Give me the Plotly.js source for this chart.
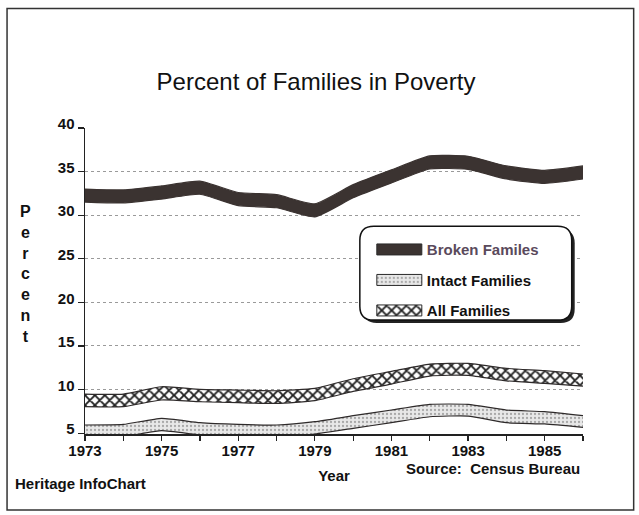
<!DOCTYPE html>
<html><head><meta charset="utf-8">
<script src="https://cdn.plot.ly/plotly-3.0.1.min.js"></script>
<style>html,body{margin:0;padding:0;background:#fff}</style>
</head><body><div id="chart" style="width:639px;height:515px"></div>
<script>
// ---- data (percent of families in poverty, band edges) ----
const years = [1973,1974,1975,1976,1977,1978,1979,1980,1981,1982,1983,1984,1985,1986];
const brokenUpper = [33.0, 32.9, 33.35, 33.9, 32.6, 32.35, 31.3, 33.5, 35.2, 36.8, 36.75, 35.65, 35.15, 35.65];
const brokenLower = [31.5, 31.4, 31.85, 32.4, 31.1, 30.85, 29.8, 32.0, 33.7, 35.3, 35.25, 34.15, 33.65, 34.15];
const intactUpper = [5.93, 6.0, 6.7, 6.2, 6.0, 5.93, 6.31, 7.0, 7.65, 8.3, 8.3, 7.65, 7.46, 7.0];
const intactLower = [4.55, 4.6, 5.29, 4.8, 4.6, 4.55, 4.9, 5.55, 6.2, 6.88, 6.96, 6.2, 6.05, 5.67];
const allUpper = [9.48, 9.48, 10.32, 10.02, 9.94, 9.86, 10.14, 11.24, 12.08, 12.92, 13.0, 12.43, 12.16, 11.78];
const allLower = [8.03, 8.03, 8.8, 8.6, 8.49, 8.42, 8.72, 9.79, 10.63, 11.55, 11.63, 11.0, 10.7, 10.4];
const seriesNames = ['Broken Familes', 'Intact Families', 'All Families'];
const yTickVals = [5, 10, 15, 20, 25, 30, 35, 40];
const xTickLabels = years.map(y => (y % 2 === 1 ? String(y) : ''));

// ---- geometry helpers (pixel -> paper) ----
const W = 639, H = 515;
const M = {l: 85, r: 55.7, t: 127.7, b: 81};
const PW = W - M.l - M.r, PH = H - M.t - M.b;
const px = x => (x - M.l) / PW;
const py = y => (H - M.b - y) / PH;
function roundRect(x0, y0, x1, y1, r) {
  const p = (x, y) => px(x).toFixed(5) + ',' + py(y).toFixed(5);
  return 'M' + p(x0 + r, y0) + ' L' + p(x1 - r, y0) + ' Q' + p(x1, y0) + ' ' + p(x1, y0 + r) +
    ' L' + p(x1, y1 - r) + ' Q' + p(x1, y1) + ' ' + p(x1 - r, y1) +
    ' L' + p(x0 + r, y1) + ' Q' + p(x0, y1) + ' ' + p(x0, y1 - r) +
    ' L' + p(x0, y0 + r) + ' Q' + p(x0, y0) + ' ' + p(x0 + r, y0) + ' Z';
}

const FONT = 'Liberation Sans, Arial, Helvetica, sans-serif';
const edge = {color: '#2e2a2a', width: 1.2, shape: 'spline', smoothing: 0.5};

const traces = [
  {x: years, y: brokenLower, type: 'scatter', mode: 'lines', line: {...edge, color: '#3b3331'},
   legendgroup: 'b', showlegend: false, hoverinfo: 'skip'},
  {x: years, y: brokenUpper, type: 'scatter', mode: 'lines', line: {...edge, color: '#3b3331'},
   fill: 'tonexty', fillcolor: '#3b3331', legendgroup: 'b',
   name: '<span style="color:#5a4a5c">' + seriesNames[0] + '</span>'},
  {x: years, y: intactLower, type: 'scatter', mode: 'lines', line: edge,
   legendgroup: 'i', showlegend: false, hoverinfo: 'skip'},
  {x: years, y: intactUpper, type: 'scatter', mode: 'lines', line: edge,
   fill: 'tonexty', fillcolor: '#e4e4e4', legendgroup: 'i', name: seriesNames[1],
   fillpattern: {shape: '.', bgcolor: '#e8e8e8', fgcolor: '#a8a8a8', size: 4, solidity: 0.25}},
  {x: years, y: allLower, type: 'scatter', mode: 'lines', line: edge,
   legendgroup: 'a', showlegend: false, hoverinfo: 'skip'},
  {x: years, y: allUpper, type: 'scatter', mode: 'lines', line: edge,
   fill: 'tonexty', fillcolor: '#ffffff', legendgroup: 'a', name: seriesNames[2],
   fillpattern: {shape: 'x', bgcolor: '#ffffff', fgcolor: '#1e1e1e', size: 7, solidity: 0.45}}
];

const layout = {
  width: W, height: H, margin: M,
  paper_bgcolor: '#ffffff', plot_bgcolor: '#ffffff',
  font: {family: FONT, color: '#151515'},
  title: {text: 'Percent of Families in Poverty', font: {family: FONT, size: 24, color: '#111'},
          xref: 'container', yref: 'container', x: 316 / W, y: 1 - 82 / H,
          xanchor: 'center', yanchor: 'middle'},
  xaxis: {range: [1973, 1986], tickvals: years, ticktext: xTickLabels,
          ticks: 'outside', ticklen: 5, tickwidth: 1.2, tickcolor: '#222',
          showline: true, linecolor: '#222', linewidth: 1.5, showgrid: false, zeroline: false,
          tickfont: {family: FONT, size: 15, color: '#111', weight: 'bold'},
          ticklabelstandoff: -3,
          title: {text: 'Year', font: {family: FONT, size: 15, color: '#111', weight: 'bold'}, standoff: 13},
          fixedrange: true},
  yaxis: {range: [4.9, 40], tickvals: yTickVals, ticks: 'outside', ticklen: 6, tickwidth: 1.2,
          tickcolor: '#222', showline: true, linecolor: '#222', linewidth: 1.5,
          showgrid: true, gridcolor: '#9a9a9a', griddash: 'dot', gridwidth: 1, zeroline: false,
          tickfont: {family: FONT, size: 15, color: '#111', weight: 'bold'},
          ticklabelshift: -4, fixedrange: true},
  showlegend: true,
  legend: {x: px(372), y: py(233), xanchor: 'left', yanchor: 'top',
           bgcolor: 'rgba(0,0,0,0)', borderwidth: 0, itemwidth: 45, tracegroupgap: 8,
           font: {family: FONT, size: 15, color: '#111', weight: 'bold'}},
  shapes: [
    {type: 'rect', xref: 'paper', yref: 'paper', x0: px(7), x1: px(634), y0: py(510), y1: py(8),
     line: {color: '#333', width: 1.5}, fillcolor: 'rgba(0,0,0,0)', layer: 'below'},
    {type: 'path', xref: 'paper', yref: 'paper', path: roundRect(363, 229, 575, 323, 14),
     fillcolor: '#222', line: {width: 0}, layer: 'above'},
    {type: 'path', xref: 'paper', yref: 'paper', path: roundRect(360, 226, 572, 320, 14),
     fillcolor: '#ffffff', line: {color: '#111', width: 1.5}, layer: 'above'}
  ],
  annotations: [
    {text: 'P<br>e<br>r<br>c<br>e<br>n<br>t', xref: 'paper', yref: 'paper', x: px(25), y: py(274),
     xanchor: 'center', yanchor: 'middle', showarrow: false, align: 'center',
     font: {family: FONT, size: 16, color: '#111', weight: 'bold'}},
    {text: 'Source:\u00a0 Census Bureau', xref: 'paper', yref: 'paper', x: px(493), y: py(469),
     xanchor: 'center', yanchor: 'middle', showarrow: false,
     font: {family: FONT, size: 15, color: '#111', weight: 'bold'}},
    {text: 'Heritage InfoChart', xref: 'paper', yref: 'paper', x: px(13), y: py(484),
     xanchor: 'left', yanchor: 'middle', showarrow: false,
     font: {family: FONT, size: 15, color: '#111', weight: 'bold'}}
  ]
};

Plotly.newPlot('chart', traces, layout, {staticPlot: true, displayModeBar: false}).then(gd => {
  // draw legend keys as outlined rectangles like the original swatches
  gd.querySelectorAll('.legend .legendfill path').forEach(p => {
    p.setAttribute('d', 'M5,-5.5h45v11h-45z');
    p.style.stroke = '#2a2a2a';
    p.style.strokeWidth = '1px';
  });
  gd.querySelectorAll('.legend .legendlines path').forEach(p => { p.style.display = 'none'; });
});
</script></body></html>
